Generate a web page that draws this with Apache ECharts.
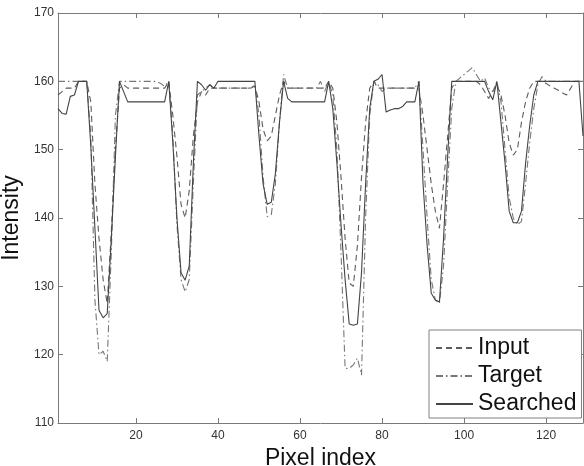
<!DOCTYPE html>
<html>
<head>
<meta charset="utf-8">
<script src="https://cdn.jsdelivr.net/npm/echarts@6/dist/echarts.min.js"></script>
<style>html,body{margin:0;padding:0;background:#fff}#c{width:584px;height:466px}</style>
</head>
<body>
<div id="c"></div>
<script>
// Pixel index 1..129
const searched = [156,155.3,155.2,157.8,158,160,160,160,150.5,138.5,
126.5,125.4,126,137,149,160,158.5,157,157,157,
157,157,157,157,157,157,157,160,151,140,
132,130.9,133,148,160,159.5,158.7,159.5,159,160,
160,160,160,160,160,160,160,160,160,152,
145,142,142.3,146.5,154,160,157.5,157,157,157,
157,157,157,157,157,157,160,156,148,139,
131,124.5,124.3,124.5,132,145,156,160,160.3,161,
155.5,155.8,156,156,156.3,157,157,157,160,145,
136,129,128,127.7,137,149,160,160,160,160,
160,160,160,160,160,158.5,157.3,160,154,148,
141,139.3,139.3,141,148,153.5,158,160,160,160,
160,160,160,160,160,160,160,160,152];
const target = [160,160,160,160,160,160,160,160,152,128,
120,120.5,119,135,155,160,160,160,160,160,
160,160,160,160,160,159.7,159.3,160,152,139,
131,129.2,131,145,158,158.5,159,159.5,159,159,
159,159,159,159,159,159,159,159,159.5,155,
146,140.2,140.5,145,154,161,159,159,159,159,
159,159,159,159,160,158.5,160,158,150,135,
118,118,118.5,119.5,117,140,155,160,159.5,158.5,
159,159,159,159,159,159,159,159,160,150,
140,131,128,127.5,133,145,156,160,160.5,161,
161.5,162,161,160,160.5,159,158.5,160,157,150,
143,140,139,139.5,145,151,156,159.5,160.7,160,
160,160,160,160,160,160,160,160,160];
const input = [158,158.5,159,159,159,160,160,160,157,145,
137,131,127.5,138,150,159,159.5,159,159,159,
159,159,159,159,159,159,159,160,155,149,
142,140,144,152,157,158.5,158,159,159,159,
159,159,159,159,159,159,159,159,159.3,157,
153,151.3,152,155,158,160,159,159,159,159,
159,159,159,159,159,159,160,159,154,146,
137,130.5,130,136,146,154,159,160,159,159,
159,159,159,159,159,159,159,159,159,155,
150,145,141,138.5,145,152,159,160,160,160,
160,160,160,159.5,158.5,157.5,158.5,159.5,158,155,
151,149.2,150,154,157,159,160,160,160,159.7,
159.3,159,158.7,158.3,158,159,160,160,160];
const xTicks = [20,40,60,80,100,120];
const seriesNames = ['Input','Target','Searched'];

const pair = arr => arr.map((v,i)=>[i+1,v]);
const FONT = 'Liberation Sans, Arial, Helvetica, sans-serif';
const AX = '#7a7a7a';
const LC = '#5c5c5c';

const chart = echarts.init(document.getElementById('c'), null, {renderer:'canvas'});
const xCommon = {
  type:'value', min:1, max:129,
  axisLine:{show:true, lineStyle:{color:AX, width:1}},
  axisTick:{show:true, inside:true, length:5, customValues:xTicks, lineStyle:{color:AX}},
  splitLine:{show:false}
};
const yCommon = {
  type:'value', min:110, max:170, interval:10,
  axisLine:{show:true, lineStyle:{color:AX, width:1}},
  axisTick:{show:true, inside:true, length:5, lineStyle:{color:AX}},
  splitLine:{show:false}
};
chart.setOption({
  animation:false,
  backgroundColor:'#fff',
  grid:{left:58, top:13, right:1, bottom:43, containLabel:false, outerBoundsMode:'none'},
  xAxis:[
    Object.assign({}, xCommon, {position:'bottom',
      name:'Pixel index', nameLocation:'middle', nameGap:18,
      nameTextStyle:{fontFamily:FONT, fontSize:23, color:'#111', verticalAlign:'top'},
      axisLabel:{show:true, customValues:xTicks, margin:7, fontFamily:FONT, fontSize:12, color:'#333'}}),
    Object.assign({}, xCommon, {position:'top', axisLabel:{show:false}})
  ],
  yAxis:[
    Object.assign({}, yCommon, {position:'left',
      name:'Intensity', nameLocation:'middle', nameGap:26,
      nameTextStyle:{fontFamily:FONT, fontSize:23, color:'#111'},
      axisLabel:{show:true, margin:4, fontFamily:FONT, fontSize:12, color:'#333'}}),
    Object.assign({}, yCommon, {position:'right', axisLabel:{show:false}})
  ],
  legend:{
    data:seriesNames, orient:'vertical', left:429, top:330,
    itemWidth:37, itemHeight:14, itemGap:0,
    padding:[4,5,0,6],
    itemStyle:{opacity:0},
    borderColor:'#808080', borderWidth:1, backgroundColor:'#fff',
    textStyle:{fontFamily:FONT, fontSize:23, lineHeight:28, color:'#111'}
  },
  series:[
    {name:seriesNames[0], type:'line', data:pair(input), symbol:'none', clip:true,
     lineStyle:{color:LC, width:1.1, type:[6,4]}, itemStyle:{color:LC}},
    {name:seriesNames[1], type:'line', data:pair(target), symbol:'none', clip:true,
     lineStyle:{color:'#777', width:1.1, type:[7,3,1.5,3]}, itemStyle:{color:'#777'}},
    {name:seriesNames[2], type:'line', data:pair(searched), symbol:'none', clip:true,
     lineStyle:{color:'#444', width:1.1, type:'solid'}, itemStyle:{color:'#444'}}
  ]
});
</script>
</body>
</html>
